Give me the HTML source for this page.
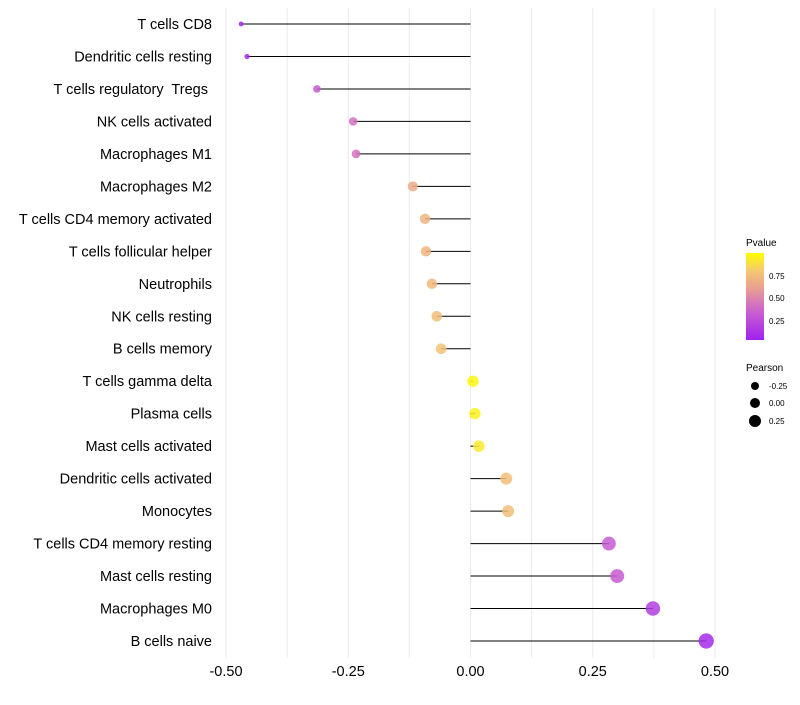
<!DOCTYPE html>
<html><head><meta charset="utf-8"><style>
body{margin:0;background:#fff;font-family:"Liberation Sans",sans-serif}
svg text{font-family:"Liberation Sans",sans-serif}
</style></head><body>
<svg id="chart" width="800" height="700">
<defs><linearGradient id="pg" x1="0" y1="1" x2="0" y2="0">
<stop offset="0" stop-color="#a020f0"/><stop offset="0.35" stop-color="#cc66cc"/><stop offset="0.6" stop-color="#eaa090"/><stop offset="0.8" stop-color="#f5c870"/><stop offset="1" stop-color="#ffff00"/></linearGradient></defs>
<g id="grid"></g><g id="marks"></g><g id="labels"></g>
<g id="legend">
<text x="746" y="246" font-size="10" fill="#000">Pvalue</text>
<rect x="746" y="253" width="18" height="87" fill="url(#pg)"/>
<text x="769" y="279" font-size="8">0.75</text>
<text x="769" y="301" font-size="8">0.50</text>
<text x="769" y="324" font-size="8">0.25</text>
<text x="746" y="371" font-size="10">Pearson</text>
<circle cx="755" cy="386" r="4" fill="#000"/>
<circle cx="755" cy="403" r="5" fill="#000"/>
<circle cx="755" cy="421" r="6" fill="#000"/>
<text x="769" y="389" font-size="8">-0.25</text>
<text x="769" y="406" font-size="8">0.00</text>
<text x="769" y="424" font-size="8">0.25</text>
</g>
</svg>
<script>
const categories=["T cells CD8","Dendritic cells resting","T cells regulatory  Tregs\u00a0","NK cells activated","Macrophages M1","Macrophages M2","T cells CD4 memory activated","T cells follicular helper","Neutrophils","NK cells resting","B cells memory","T cells gamma delta","Plasma cells","Mast cells activated","Dendritic cells activated","Monocytes","T cells CD4 memory resting","Mast cells resting","Macrophages M0","B cells naive"];
const pearson=[-0.469,-0.457,-0.314,-0.240,-0.234,-0.118,-0.093,-0.091,-0.079,-0.069,-0.060,0.005,0.009,0.017,0.073,0.077,0.283,0.300,0.373,0.482];
const pvalue=[0.04,0.05,0.3,0.4,0.4,0.65,0.7,0.7,0.72,0.75,0.77,0.97,0.95,0.92,0.75,0.75,0.3,0.3,0.15,0.05];
const xTicks=[-0.5,-0.25,0,0.25,0.5];
const xTickLabels=["-0.50","-0.25","0.00","0.25","0.50"];
const ns="http://www.w3.org/2000/svg";
const X=v=>470.5+v*489;
const Y=i=>24+i*(641-24)/(categories.length-1);
function mk(t,a,p){const e=document.createElementNS(ns,t);for(const k in a)e.setAttribute(k,a[k]);p.appendChild(e);return e;}
const stops=[[0,[160,32,240]],[0.35,[204,102,204]],[0.6,[234,160,144]],[0.8,[245,200,112]],[1,[255,255,0]]];
function col(p){for(let i=1;i<stops.length;i++){if(p<=stops[i][0]){const a=stops[i-1],b=stops[i];const t=(p-a[0])/(b[0]-a[0]);return 'rgb('+a[1].map((c,j)=>Math.round(c+(b[1][j]-c)*t)).join(',')+')';}}return 'rgb(255,255,0)';}
const g=document.getElementById('grid'),m=document.getElementById('marks'),l=document.getElementById('labels');
for(let k=-4;k<=4;k++){const v=k*0.125;const ln=mk('line',{x1:X(v),x2:X(v),y1:8,y2:658,stroke:'#ebebeb','stroke-width':1},g);

}
xTicks.forEach((v,i)=>{const t=mk('text',{x:X(v),y:676,'font-size':14.5,'text-anchor':'middle',fill:'#000'},l);t.textContent=xTickLabels[i];

});
categories.forEach((c,i)=>{const y=Y(i);
const t=mk('text',{x:212,y:y+5,'font-size':14.5,'text-anchor':'end',fill:'#000'},l);t.setAttribute('xml:space','preserve');t.style.whiteSpace='pre';t.textContent=c;


const ln=mk('line',{x1:X(0),x2:X(pearson[i]),y1:y,y2:y,stroke:'#000','stroke-width':1},m);


const r=Math.sqrt(Math.max(4,32+55*pearson[i]));
const ci=mk('circle',{cx:X(pearson[i]),cy:y,r:r,fill:col(pvalue[i]),'fill-opacity':0.85},m);

});
</script>
</body></html>
